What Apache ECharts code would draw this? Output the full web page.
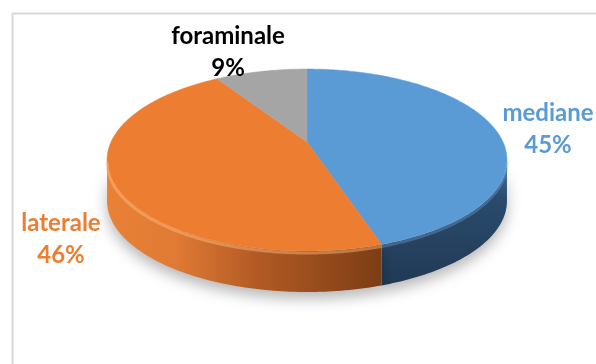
<!DOCTYPE html>
<html>
<head>
<meta charset="utf-8">
<script src="https://cdn.jsdelivr.net/npm/echarts@6/dist/echarts.min.js"></script>
<style>
html,body{margin:0;padding:0;background:#fff;}
#c{width:596px;height:364px;}
</style>
</head>
<body>
<div id="c"></div>
<script>
const categories = ['mediane', 'laterale', 'foraminale'];
const values = [45, 46, 9];
const topColors = ['#5B9BD5', '#ED7D31', '#A5A5A5'];
const labelColors = ['#5B9BD5', '#ED7D31', '#000000'];

// geometry (styling): simple perspective projection of a tilted disc
const CX = 307, CY = 142, A = 196, B = 87.4, P = 0.198, DEPTH = 41;
const labelPos = [[548, 129], [61, 239], [228, 52]];
const sideFills = [
  new echarts.graphic.LinearGradient(0, 0, 0, 1, [
    {offset: 0, color: '#4677A8'}, {offset: 0.3, color: '#2A4B6D'}, {offset: 1, color: '#213A55'}
  ]),
  new echarts.graphic.LinearGradient(0, 0, 1, 0, [
    {offset: 0, color: '#E98237'}, {offset: 0.25, color: '#E07A34'}, {offset: 0.55, color: '#B25A24'}, {offset: 1, color: '#7C3D15'}
  ]),
  '#7F7F7F'
];

const total = values.reduce((a, b) => a + b, 0);
const starts = [];
let acc = 0;
values.forEach(v => { starts.push(acc); acc += v; });

function pt(deg, dy) {
  const r = deg * Math.PI / 180;
  const w = 1 + P * Math.cos(r);
  return [CX + A * Math.sin(r) / w, CY - B * Math.cos(r) / w + (dy || 0)];
}
function arc(a0, a1, dy) {
  const pts = [];
  const n = Math.max(2, Math.ceil(Math.abs(a1 - a0)));
  for (let k = 0; k <= n; k++) pts.push(pt(a0 + (a1 - a0) * k / n, dy));
  return pts;
}
// silhouette angles (vertical tangent)
const SIL = Math.acos(-P) * 180 / Math.PI;

const chart = echarts.init(document.getElementById('c'), null, {renderer: 'canvas'});
chart.setOption({
  animation: false,
  backgroundColor: '#fff',
  graphic: [{
    type: 'rect', left: 10, top: 11, z: -10,
    shape: {width: 620, height: 400},
    style: {fill: 'none', stroke: '#D9D9D9', lineWidth: 2}
  }],
  series: [{
    type: 'custom',
    coordinateSystem: 'none',
    data: values.map((v, i) => ({value: v, name: categories[i]})),
    renderItem: function (params, api) {
      const i = params.dataIndex;
      const v = api.value(0);
      const a0 = starts[i] / total * 360;
      const a1 = (starts[i] + v) / total * 360;
      const children = [];
      const s0 = Math.max(a0, SIL), s1 = Math.min(a1, 360 - SIL);
      if (s1 > s0) {
        const topArc = arc(s0, s1, 0);
        const botArc = arc(s1, s0, DEPTH);
        children.push({
          type: 'polygon', z2: 1,
          shape: {points: topArc.concat(botArc)},
          style: {fill: sideFills[i], shadowBlur: 14, shadowColor: 'rgba(0,0,0,0.28)', shadowOffsetY: 7}
        });
        children.push({
          type: 'polyline', z2: 3,
          shape: {points: arc(s0, s1, 2)},
          style: {fill: 'none', stroke: i === 1 ? 'rgba(255,190,130,0.45)' : 'rgba(120,170,220,0.35)', lineWidth: 3}
        });
      }
      const topPts = [[CX, CY]].concat(arc(a0, a1, 0));
      children.push({
        type: 'polygon', z2: 2,
        shape: {points: topPts},
        style: {fill: topColors[i], stroke: topColors[i], lineWidth: 0.5}
      });
      const pct = Math.round(v / total * 100);
      children.push({
        type: 'text', z2: 5,
        style: {
          text: categories[i] + '\n' + pct + '%',
          x: labelPos[i][0], y: labelPos[i][1],
          align: 'center', verticalAlign: 'middle',
          font: 'bold 24px Lato', lineHeight: 32,
          fill: labelColors[i]
        }
      });
      return {type: 'group', children: children};
    }
  }]
});
</script>
</body>
</html>
